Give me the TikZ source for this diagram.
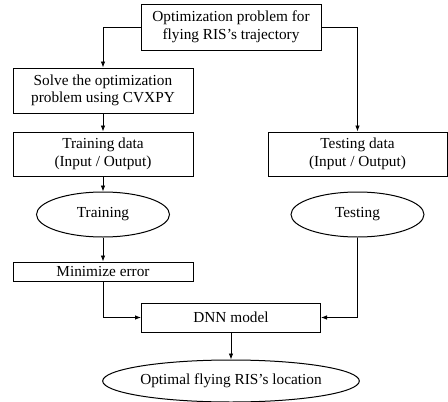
\documentclass[tikz,border=0pt]{standalone}
\usepackage{fontspec}
\setmainfont{Liberation Serif}
\usetikzlibrary{shapes.geometric,arrows.meta}
\begin{document}
\begin{tikzpicture}[x=1pt,y=-1pt,
  txt/.style={font=\fontsize{15.3}{17.5}\selectfont},
  box/.style={txt,draw,line width=1pt,inner sep=0pt,align=center},
  oval/.style={txt,draw,ellipse,line width=1pt,inner sep=0pt,align=center},
  arr/.style={line width=0.8pt,-{Latex[length=6pt,width=4.5pt]}}]
\useasboundingbox (0,0) rectangle (448,402);
\node[box,minimum width=180pt,minimum height=46pt] (top) at (231,27) {Optimization problem for\\flying RIS’s trajectory};
\node[box,minimum width=180pt,minimum height=45pt] (solve) at (103,90.5) {Solve the optimization\\problem using CVXPY};
\node[box,minimum width=180pt,minimum height=44pt] (traind) at (103,154) {Training data\\(Input / Output)};
\node[oval,minimum width=133pt,minimum height=45pt] (train) at (103,214.5) {Training};
\node[box,minimum width=180pt,minimum height=19pt] (minim) at (103,271.5) {Minimize error};
\node[box,minimum width=179pt,minimum height=44pt] (testd) at (357.5,154) {Testing data\\(Input / Output)};
\node[oval,minimum width=133pt,minimum height=45pt] (test) at (357.5,214.5) {Testing};
\node[box,minimum width=179pt,minimum height=29pt] (dnn) at (231,317.5) {DNN model};
\node[oval,minimum width=235pt,minimum height=42pt] (final) at (231,381) {Optimal flying RIS’s location};
\draw[arr] (top.west) -| (solve.north);
\draw[arr] (top.east) -| (testd.north);
\draw[arr] (solve) -- (traind);
\draw[arr] (traind) -- (train);
\draw[arr] (train) -- (minim);
\draw[arr] (minim.south) |- (dnn.west);
\draw[arr] (test.south) |- (dnn.east);
\draw[arr] (dnn) -- (final);
\end{tikzpicture}
\end{document}
